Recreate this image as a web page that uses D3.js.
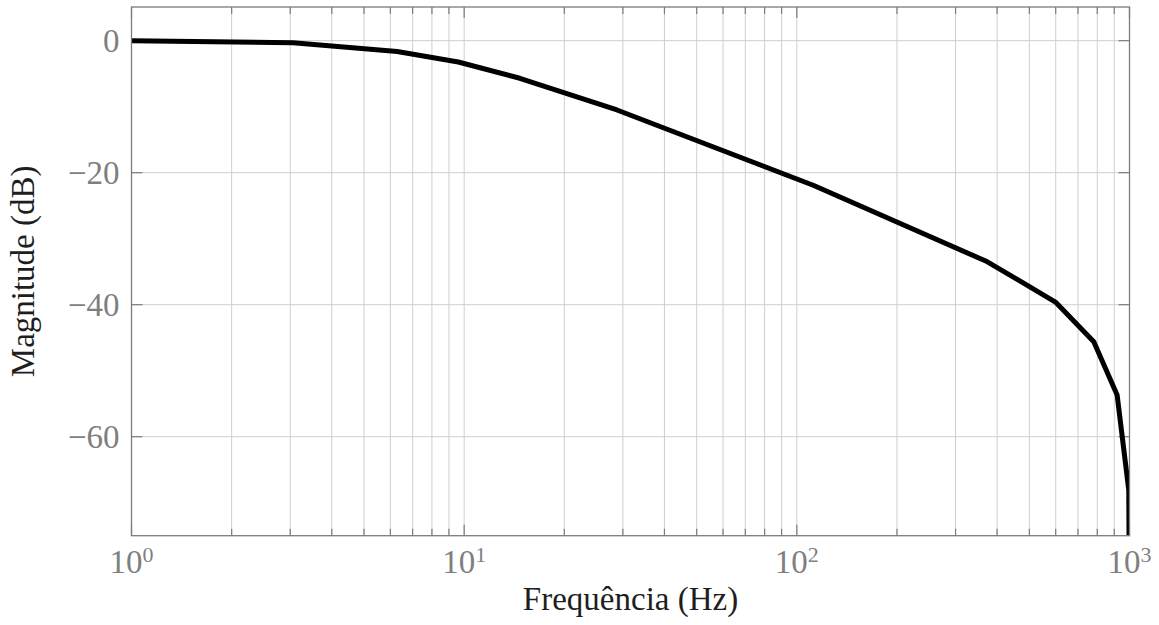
<!DOCTYPE html>
<html>
<head>
<meta charset="utf-8">
<script src="https://cdn.jsdelivr.net/npm/d3@7"></script>
<style>
  html, body { margin: 0; padding: 0; background: #fff; }
  svg { display: block; }
  text { font-family: "Liberation Serif", "DejaVu Serif", serif; }
</style>
</head>
<body>
<svg id="chart" width="1159" height="625"></svg>
<script>
// Frequency response samples (Hz, dB)
const frequencies = [1, 3.06, 6.29, 9.6, 14.7, 28.8, 112, 374, 599, 781, 918, 995, 1000];
const magnitudes  = [0, -0.3, -1.64, -3.23, -5.7, -10.5, -21.9, -33.5, -39.6, -45.6, -53.7, -68.1, -90];

const xDecades = [1, 10, 100, 1000];
const xDecadeExponents = ["0", "1", "2", "3"];
const yTicks = [-60, -40, -20, 0];
const yTickLabels = ["\u221260", "\u221240", "\u221220", "0"];

const xTitle = "Frequência (Hz)";
const yTitle = "Magnitude (dB)";

const svg = d3.select("#chart");
const plot = { left: 131.5, right: 1129.5, top: 7, bottom: 535.7 };

const x = d3.scaleLog().domain([1, 1000]).range([plot.left, plot.right]);
const y = d3.scaleLinear().domain([-75, 5.1]).range([plot.bottom, plot.top]);

// minor positions 2..9 in each decade
const minorTicks = [];
xDecades.slice(0, -1).forEach(d => {
  for (let k = 2; k <= 9; k++) minorTicks.push(d * k);
});

const gridColor = "#cfcfcf";
const frameColor = "#7c7c7c";
const labelColor = "#7f7f7f";

// grid
const grid = svg.append("g");
grid.selectAll("line.vx")
  .data(minorTicks.concat(xDecades))
  .join("line")
  .attr("x1", d => x(d)).attr("x2", d => x(d))
  .attr("y1", plot.top).attr("y2", plot.bottom)
  .attr("stroke", gridColor).attr("stroke-width", 1);
grid.selectAll("line.hy")
  .data(yTicks)
  .join("line")
  .attr("x1", plot.left).attr("x2", plot.right)
  .attr("y1", d => y(d)).attr("y2", d => y(d))
  .attr("stroke", gridColor).attr("stroke-width", 1);

// inward ticks: axes on all four sides
const majorLen = 11, minorLen = 7;
const bottomAxis = d3.axisTop(x).tickValues(minorTicks.concat(xDecades)).tickFormat("")
  .tickSize(0).tickSizeOuter(0);
const ticks = svg.append("g");
function xTickLines(y0, dir) {
  ticks.append("g").selectAll("line")
    .data(minorTicks.concat(xDecades))
    .join("line")
    .attr("x1", d => x(d)).attr("x2", d => x(d))
    .attr("y1", y0)
    .attr("y2", d => y0 + dir * (xDecades.includes(d) ? majorLen : minorLen))
    .attr("stroke", frameColor).attr("stroke-width", 1.2);
}
xTickLines(plot.bottom, -1);
xTickLines(plot.top, 1);
function yTickLines(x0, dir) {
  ticks.append("g").selectAll("line")
    .data(yTicks)
    .join("line")
    .attr("x1", x0).attr("x2", x0 + dir * majorLen)
    .attr("y1", d => y(d)).attr("y2", d => y(d))
    .attr("stroke", frameColor).attr("stroke-width", 1.2);
}
yTickLines(plot.left, 1);
yTickLines(plot.right, -1);

// response curve
svg.append("clipPath").attr("id", "plotClip")
  .append("rect")
  .attr("x", plot.left).attr("y", plot.top)
  .attr("width", plot.right - plot.left).attr("height", plot.bottom - plot.top);

const series = frequencies.map((f, i) => ({ f, m: magnitudes[i] }));
const line = d3.line().x(d => x(d.f)).y(d => y(d.m)).curve(d3.curveLinear);
svg.append("path")
  .datum(series)
  .attr("clip-path", "url(#plotClip)")
  .attr("d", line)
  .attr("fill", "none")
  .attr("stroke", "#000")
  .attr("stroke-width", 5)
  .attr("stroke-linejoin", "round");

// frame
svg.append("rect")
  .attr("x", plot.left).attr("y", plot.top)
  .attr("width", plot.right - plot.left).attr("height", plot.bottom - plot.top)
  .attr("fill", "none").attr("stroke", frameColor).attr("stroke-width", 1.3);

// x tick labels 10^n
const xl = svg.append("g").attr("fill", labelColor);
xDecades.forEach((d, i) => {
  const t = xl.append("text")
    .attr("x", x(d)).attr("y", 572.5)
    .attr("text-anchor", "middle")
    .attr("font-size", 33);
  t.append("tspan").text("10");
  t.append("tspan").attr("font-size", 22).attr("dy", -11).text(xDecadeExponents[i]);
});

// y tick labels
svg.append("g").selectAll("text")
  .data(yTicks)
  .join("text")
  .attr("x", 119.5)
  .attr("y", d => y(d))
  .attr("dy", 11)
  .attr("text-anchor", "end")
  .attr("font-size", 33)
  .attr("fill", labelColor)
  .text((d, i) => yTickLabels[i]);

// axis titles
svg.append("text")
  .attr("x", (plot.left + plot.right) / 2).attr("y", 610)
  .attr("text-anchor", "middle")
  .attr("font-size", 33)
  .attr("fill", "#1e1e1e")
  .text(xTitle);

svg.append("text")
  .attr("transform", `translate(33.5, ${(plot.top + plot.bottom) / 2}) rotate(-90)`)
  .attr("text-anchor", "middle")
  .attr("font-size", 33)
  .attr("fill", "#1e1e1e")
  .text(yTitle);
</script>
</body>
</html>
